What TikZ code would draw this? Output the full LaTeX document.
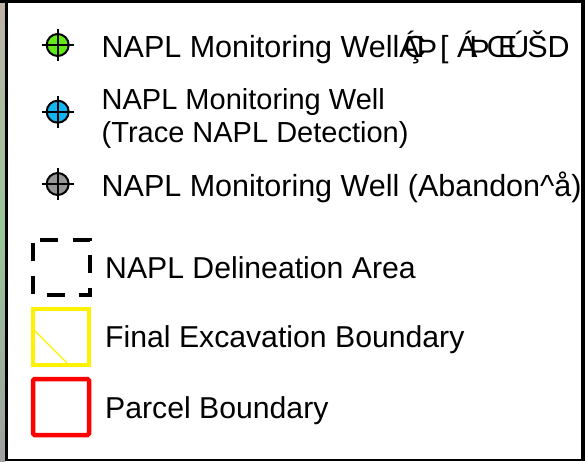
\documentclass[tikz,border=0pt]{standalone}
\usepackage{fontspec}
\setmainfont{Liberation Sans}
\begin{document}
\begin{tikzpicture}[x=1pt,y=-1pt,
  lbl/.style={anchor=base west,inner sep=0pt,font=\fontsize{30.5}{34}\selectfont},
  lbls/.style={anchor=base west,inner sep=0pt,font=\fontsize{29}{33}\selectfont},
  lblb/.style={anchor=base west,inner sep=0pt,font=\fontsize{30.2}{34}\selectfont},
  wellsym/.style={circle,draw=black,line width=2pt,minimum size=22pt,inner sep=0pt},
  cross/.style={line width=2.2pt,black},
  frame/.style={black,line width=3.5pt}]
\useasboundingbox (0,0) rectangle (585,461);
\fill[white] (0,0) rectangle (585,461);
\shade[top color=gray!70!brown!60,bottom color=gray!75,middle color=black!55!green!40] (0,0) rectangle (5,461);

% well symbols
\node[wellsym,fill={rgb,255:red,98;green,234;blue,24}] (w1) at (57.7,45) {};
\node[wellsym,fill={rgb,255:red,20;green,180;blue,240}] (w2) at (57.7,111.7) {};
\node[wellsym,fill={rgb,255:red,150;green,150;blue,150}] (w3) at (57.7,184) {};
\foreach \w in {w1,w2,w3}{
  \draw[cross] ([xshift=-16pt]\w.center) -- ([xshift=16pt]\w.center);
  \draw[cross] ([yshift=-16pt]\w.center) -- ([yshift=16pt]\w.center);
}

% area symbols
\draw[line width=4pt,dash pattern=on 18pt off 14.6pt,dash phase=25.6pt]
  (33,240) coordinate (d1) -- (90,240) coordinate (d2) -- (90,295) coordinate (d3) -- (33,295) coordinate (d4) -- cycle;
\node[draw=yellow,line width=4pt,minimum width=56pt,minimum height=56pt,inner sep=0pt] (exc) at (61,337) {};
\coordinate (e1) at (35,331);
\coordinate (e2) at (67,363);
\draw[yellow,line width=1.2pt] (e1) -- (e2);
\node[draw=red,line width=4.5pt,rounded corners=1.5pt,minimum width=56pt,minimum height=56pt,inner sep=0pt] (par) at (61,407) {};

% labels
\node[lbl] (t1) at (101.5,57) {NAPL Monitoring Well\kern0ptÁ\kern-16ptÇ\kern-9ptÞ\kern3pt[ Á\kern-8ptÞ\kern-3ptŒ\kern-10ptÚ\kern-2ptŠ\kern0ptD};
\node[lbls] (t2a) at (101.5,109) {NAPL Monitoring Well};
\node[lbls] (t2b) at (101.5,142) {(Trace NAPL Detection)};
\node[lbl] (t3) at (101.5,196) {NAPL Monitoring Well (Abandon\textasciicircum å)};
\node[lblb] (t4) at (105,278) {NAPL Delineation Area};
\node[lblb] (t5) at (105,347) {Final Excavation Boundary};
\node[lblb] (t6) at (105,418) {Parcel Boundary};

% frame
\fill[white] (585,0) rectangle (600,461);
\draw[frame] (6.5,0) -- (6.5,461);
\draw[black,line width=3.5pt] (0,1.5) -- (585,1.5);
\draw[black,line width=4pt] (583,0) -- (583,461);
\draw[black,line width=2pt] (5,459.5) -- (585,459.5);
\end{tikzpicture}
\end{document}
